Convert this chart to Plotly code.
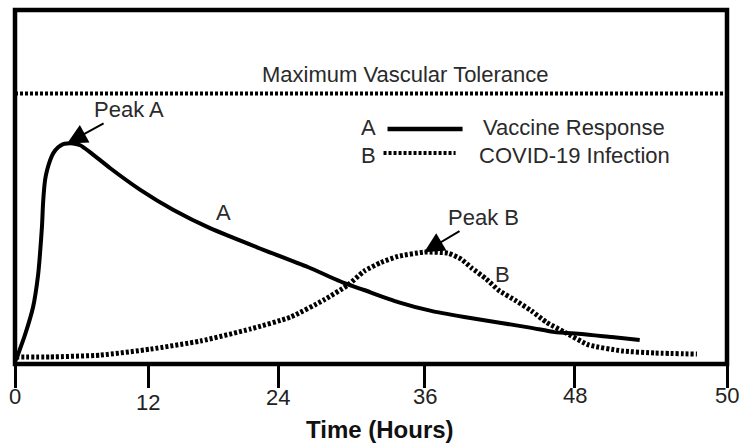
import plotly.graph_objects as go

# curve A: vaccine response (time in axis units, response level 0-100)
vaccine_t = [0.07, 0.70, 1.27, 1.62, 1.76, 1.90, 1.97, 2.11, 2.25, 2.46, 2.68, 3.03, 3.38,
             3.66, 4.08, 4.58, 5.28, 6.69, 8.80, 11.13, 13.73, 17.04, 20.56, 23.10, 24.51,
             26.90, 29.23, 31.55, 34.15, 36.27, 37.89, 39.79, 41.90, 43.87]
vaccine_y = [1.1, 8.2, 16.1, 25.1, 31.3, 39.2, 45.4, 51.9, 54.7, 57.5, 59.5, 61.2, 62.1,
             62.3, 62.3, 61.8, 59.8, 55.3, 49.2, 43.5, 38.3, 32.9, 27.4, 22.9, 20.9,
             17.5, 15.0, 13.3, 11.6, 10.2, 9.0, 8.5, 7.6, 6.8]

# curve B: covid-19 infection
covid_t = [0.07, 2.46, 5.99, 9.51, 13.03, 16.55, 19.37, 21.69, 23.38, 24.51, 25.70, 26.90,
           28.73, 30.42, 31.34, 32.04, 33.10, 33.94, 35.21, 36.27, 37.32, 38.59, 40.28,
           42.61, 44.93, 47.89]
covid_y = [2.0, 2.0, 2.5, 4.2, 6.5, 9.9, 13.3, 18.1, 22.3, 26.2, 28.7, 30.4,
           31.6, 31.3, 29.6, 27.2, 24.0, 20.9, 17.8, 15.0, 11.8, 9.0, 5.4,
           3.7, 3.1, 2.8]

tolerance = 76.4

tick_pos = [0, 9.35, 18.5, 28.76, 39.3, 50]
tick_text = ['0', '12', '24', '36', '48', '50']
tick_drop = [32, 38, 33, 32, 31, 31]

FONT = 'Liberation Sans, Arial, sans-serif'
TXT = '#2a2a2a'
DOTS = '3px,2px'

fig = go.Figure()

# maximum vascular tolerance
fig.add_trace(go.Scatter(x=[0, 50], y=[tolerance, tolerance], mode='lines',
                         line=dict(color='black', width=4, dash=DOTS),
                         hoverinfo='skip'))

fig.add_trace(go.Scatter(x=covid_t, y=covid_y, mode='lines', name='COVID-19 Infection',
                         line=dict(color='black', width=5, dash=DOTS, shape='spline', smoothing=0.5)))

fig.add_trace(go.Scatter(x=vaccine_t, y=vaccine_y, mode='lines', name='Vaccine Response',
                         line=dict(color='black', width=4, shape='spline', smoothing=0.5)))

# peaks taken from the data
ia = vaccine_y.index(max(vaccine_y))
ib = covid_y.index(max(covid_y))

annos = [
    dict(x=27.43, y=81.9, text='Maximum Vascular Tolerance', showarrow=False),
    dict(x=vaccine_t[ia], y=vaccine_y[ia], text='Peak A', showarrow=True,
         ax=62, ay=-34, arrowhead=2, arrowsize=2, arrowwidth=2, arrowcolor='black'),
    dict(x=covid_t[ib], y=covid_y[ib], text='Peak B', showarrow=True,
         ax=59, ay=-35, arrowhead=2, arrowsize=2, arrowwidth=2, arrowcolor='black'),
    dict(x=14.63, y=42.9, text='A', showarrow=False),
    dict(x=34.2, y=25.3, text='B', showarrow=False),
    # legend
    dict(x=24.82, y=66.7, text='A', showarrow=False),
    dict(x=32.70, y=66.7, text='Vaccine Response', showarrow=False, xanchor='left'),
    dict(x=24.82, y=59.0, text='B', showarrow=False),
    dict(x=32.42, y=59.0, text='COVID-19 Infection', showarrow=False, xanchor='left'),
]
for a in annos:
    a.update(xref='x', yref='y', font=dict(family=FONT, size=22, color=TXT))

# tick labels (staggered like the original)
for p, t, d in zip(tick_pos, tick_text, tick_drop):
    annos.append(dict(x=p, y=0, xref='x', yref='paper', text=t, showarrow=False,
                      yanchor='middle', yshift=-d,
                      font=dict(family=FONT, size=22, color='#222')))

annos.append(dict(x=0.513, y=0, xref='paper', yref='paper', text='<b>Time (Hours)</b>',
                  showarrow=False, yanchor='middle', yshift=-65,
                  font=dict(family=FONT, size=24, color='#111')))

shapes = [
    # frame
    dict(type='rect', xref='paper', yref='paper', x0=0, x1=1, y0=0, y1=1,
         line=dict(color='black', width=4.5), layer='above'),
    # legend samples
    dict(type='line', xref='x', yref='y', x0=26.16, x1=31.43, y0=66.4, y1=66.4,
         line=dict(color='black', width=4.5)),
    dict(type='line', xref='x', yref='y', x0=25.88, x1=30.94, y0=59.6, y1=59.6,
         line=dict(color='black', width=4, dash=DOTS)),
]

fig.update_layout(width=739, height=445,
                  margin=dict(l=15, r=12, t=10, b=81),
                  paper_bgcolor='white', plot_bgcolor='white',
                  showlegend=False,
                  annotations=annos, shapes=shapes,
                  xaxis=dict(range=[0, 50], showgrid=False, zeroline=False, showline=False,
                             tickmode='array', tickvals=tick_pos, showticklabels=False,
                             ticks='outside', ticklen=23, tickwidth=2.5, tickcolor='black'),
                  yaxis=dict(range=[0, 100], visible=False))

# drop the default page margin so the figure fills the window
fig.write_html('out.html', config={'displayModeBar': False},
               post_script="document.body.style.margin='0';"
                           "document.documentElement.style.overflow='hidden';")
